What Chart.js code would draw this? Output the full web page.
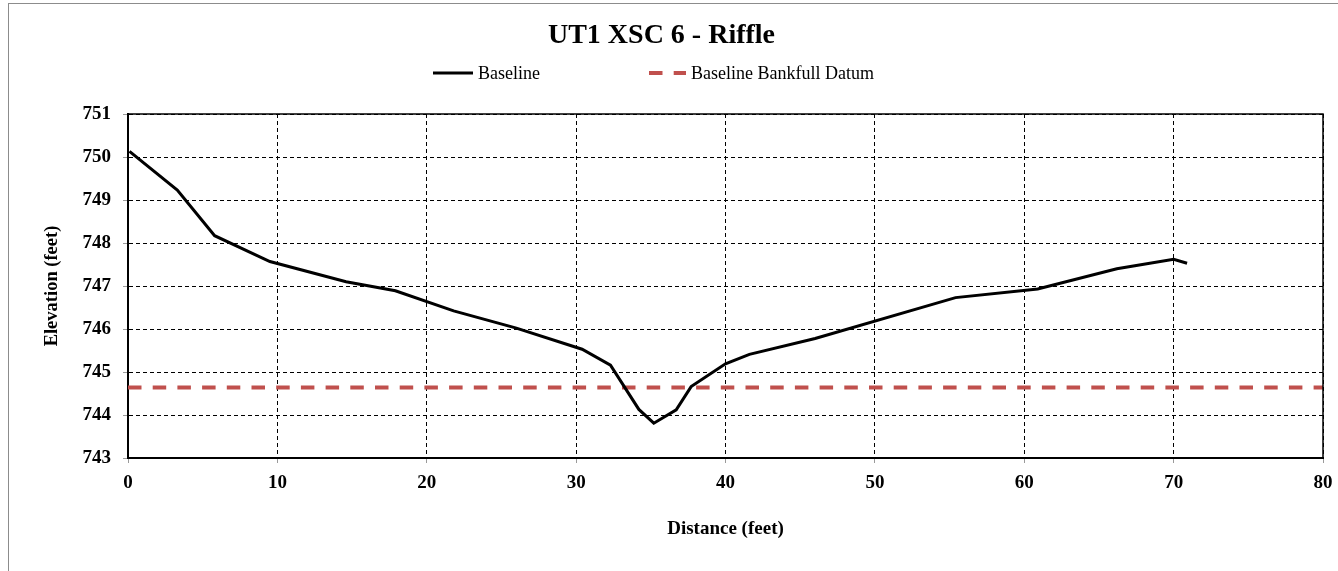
<!DOCTYPE html>
<html>
<head>
<meta charset="utf-8">
<title>UT1 XSC 6 - Riffle</title>
<script src="https://cdn.jsdelivr.net/npm/chart.js@4/dist/chart.umd.min.js"></script>
<style>
  html, body { margin: 0; padding: 0; background: #fff; overflow: hidden; }
  #wrap { position: relative; width: 1338px; height: 571px; }
  #frame { position: absolute; left: 8px; top: 3px; width: 1400px; height: 700px; border: 1px solid #8c8c8c; box-sizing: border-box; pointer-events: none; }
  canvas { position: absolute; left: 0; top: 0; }
</style>
</head>
<body>
<div id="wrap">
  <canvas id="chart" width="1338" height="571"></canvas>
  <div id="frame"></div>
</div>
<script>
// Surveyed cross-section: station (ft) and ground elevation (ft)
const distance  = [0.1, 3.3, 5.8, 9.5, 14.6, 17.9, 21.8, 26.0, 30.4, 32.3, 34.2, 35.2, 36.7, 37.7, 40.0, 41.6, 46.0, 55.4, 60.9, 66.2, 70.0, 70.9];
const elevation = [750.13, 749.23, 748.17, 747.57, 747.10, 746.89, 746.42, 746.02, 745.53, 745.16, 744.13, 743.81, 744.12, 744.66, 745.19, 745.41, 745.78, 746.73, 746.93, 747.40, 747.62, 747.53];

// Bankfull datum spans the whole section
const bankfullDistance  = [0, 80];
const bankfullElevation = [744.64, 744.64];

const xTicks = [0, 10, 20, 30, 40, 50, 60, 70, 80];
const yTicks = [743, 744, 745, 746, 747, 748, 749, 750, 751];

const seriesNames = ['Baseline', 'Baseline Bankfull Datum'];
const chartTitle = 'UT1 XSC 6 - Riffle';
const xTitle = 'Distance (feet)';
const yTitle = 'Elevation (feet)';

const FONT = "'Liberation Serif', 'Times New Roman', serif";

const toPoints = (xs, ys) => xs.map((x, i) => ({ x, y: ys[i] }));

// Solid frame on the top and right edges of the plot area
const plotFrame = {
  id: 'plotFrame',
  afterDatasetsDraw(chart) {
    const { ctx, chartArea: a } = chart;
    ctx.save();
    ctx.strokeStyle = '#000';
    ctx.lineWidth = 1.5;
    ctx.beginPath();
    ctx.moveTo(a.left, a.top);
    ctx.lineTo(a.right, a.top);
    ctx.lineTo(a.right, a.bottom);
    ctx.stroke();
    ctx.restore();
  }
};

// Legend row under the title, using each dataset's own line style
const lineLegend = {
  id: 'lineLegend',
  afterDraw(chart, args, opts) {
    const { ctx } = chart;
    ctx.save();
    ctx.font = `${opts.fontSize}px ${FONT}`;
    ctx.textBaseline = 'middle';
    ctx.fillStyle = '#000';
    chart.data.datasets.forEach((ds, i) => {
      const x0 = opts.starts[i];
      const len = opts.lineLengths[i];
      ctx.save();
      ctx.strokeStyle = ds.borderColor;
      ctx.lineWidth = ds.borderWidth;
      ctx.setLineDash(ds.borderDash || []);
      ctx.beginPath();
      ctx.moveTo(x0, opts.y);
      ctx.lineTo(x0 + len, opts.y);
      ctx.stroke();
      ctx.restore();
      ctx.fillText(ds.label, x0 + len + opts.gap, opts.y + 1);
    });
    ctx.restore();
  }
};

new Chart(document.getElementById('chart'), {
  type: 'line',
  data: {
    datasets: [
      {
        label: seriesNames[0],
        data: toPoints(distance, elevation),
        borderColor: '#000000',
        backgroundColor: '#000000',
        borderWidth: 3,
        pointRadius: 0,
        tension: 0,
        fill: false
      },
      {
        label: seriesNames[1],
        data: toPoints(bankfullDistance, bankfullElevation),
        borderColor: '#C0504D',
        backgroundColor: '#C0504D',
        borderWidth: 4,
        borderDash: [13.5, 11.2],
        pointRadius: 0,
        tension: 0,
        fill: false
      }
    ]
  },
  options: {
    responsive: false,
    animation: false,
    devicePixelRatio: 1,
    layout: { padding: { top: 0, right: 15, bottom: 23, left: 0 } },
    plugins: {
      legend: { display: false },
      tooltip: { enabled: false },
      title: {
        display: true,
        text: chartTitle,
        color: '#000',
        font: { family: FONT, size: 28, weight: 'bold', lineHeight: 1.2 },
        padding: { top: 19, bottom: 61.4 }
      },
      lineLegend: {
        y: 73,
        starts: [433, 649],
        lineLengths: [40, 37],
        gap: 5,
        fontSize: 18
      }
    },
    scales: {
      x: {
        type: 'linear',
        min: 0,
        max: 80,
        afterBuildTicks(scale) { scale.ticks = xTicks.map(v => ({ value: v })); },
        afterFit(scale) {
          scale.height = 90;
          scale.paddingLeft = 0;
          scale.paddingRight = 0;
        },
        ticks: {
          color: '#000',
          padding: 9,
          maxRotation: 0,
          font: { family: FONT, size: 19, weight: 'bold' }
        },
        grid: {
          color: '#000',
          lineWidth: 1,
          tickLength: 5,
          tickColor: '#9a9a9a',
          tickWidth: 1,
          tickBorderDash: []
        },
        border: { display: true, color: '#000', width: 2, dash: [4, 3] },
        title: {
          display: true,
          text: xTitle,
          color: '#000',
          font: { family: FONT, size: 19, weight: 'bold', lineHeight: 1.2 },
          padding: { top: 0, bottom: 8 }
        }
      },
      y: {
        type: 'linear',
        min: 743,
        max: 751,
        afterBuildTicks(scale) { scale.ticks = yTicks.map(v => ({ value: v })); },
        afterFit(scale) { scale.width = 128; },
        ticks: {
          color: '#000',
          padding: 12,
          font: { family: FONT, size: 19, weight: 'bold' }
        },
        grid: {
          color: '#000',
          lineWidth: 1,
          tickLength: 5,
          tickColor: '#9a9a9a',
          tickWidth: 1,
          tickBorderDash: []
        },
        border: { display: true, color: '#000', width: 2, dash: [4, 3] },
        title: {
          display: true,
          text: yTitle,
          color: '#000',
          font: { family: FONT, size: 18.5, weight: 'bold', lineHeight: 1.2 },
          padding: { top: 41.6, bottom: 0 }
        }
      }
    }
  },
  plugins: [plotFrame, lineLegend]
});
</script>
</body>
</html>
